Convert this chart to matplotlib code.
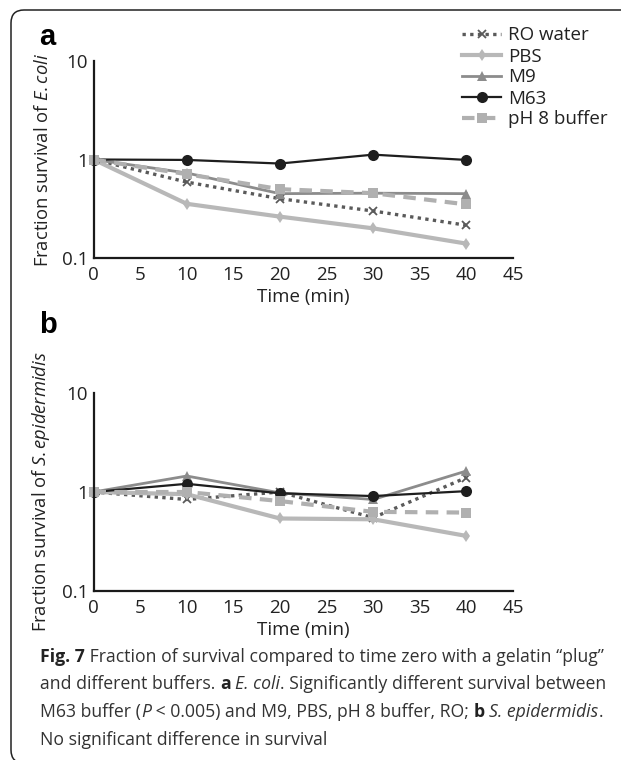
import matplotlib
matplotlib.use("Agg")
import matplotlib.pyplot as plt
from matplotlib.patches import FancyBboxPatch

plt.rcParams['font.family'] = ['Open Sans', 'DejaVu Sans']
plt.rcParams['mathtext.fontset'] = 'custom'
plt.rcParams['mathtext.rm'] = 'Open Sans'
plt.rcParams['mathtext.it'] = 'Open Sans:italic'

# ---- data ----
time = [0, 10, 20, 30, 40]
series = ["RO water", "PBS", "M9", "M63", "pH 8 buffer"]
ecoli_ro = [1.0, 0.59, 0.40, 0.30, 0.215]
ecoli_pbs = [1.0, 0.355, 0.263, 0.20, 0.14]
ecoli_m9 = [1.0, 0.73, 0.45, 0.455, 0.45]
ecoli_m63 = [1.0, 0.99, 0.91, 1.12, 0.99]
ecoli_ph8 = [1.0, 0.71, 0.50, 0.455, 0.35]

sepi_ro = [1.0, 0.84, 1.0, 0.55, 1.40]
sepi_pbs = [1.0, 0.95, 0.54, 0.53, 0.36]
sepi_m9 = [1.0, 1.45, 0.98, 0.84, 1.63]
sepi_m63 = [1.0, 1.21, 0.97, 0.91, 1.02]
sepi_ph8 = [1.0, 1.0, 0.81, 0.63, 0.62]

xticks = [0, 5, 10, 15, 20, 25, 30, 35, 40, 45]
yticks = [0.1, 1, 10]
ytick_labels = ["0.1", "1", "10"]

styles = {
    "RO water": dict(color="#5a5a5a", ls=(0, (1, 1.3)), lw=2.4, marker="x", ms=6, mew=1.3),
    "PBS": dict(color="#b8b8b8", ls="-", lw=3.0, marker="d", ms=6, mew=0),
    "M9": dict(color="#8c8c8c", ls="-", lw=2.0, marker="^", ms=7, mew=0),
    "M63": dict(color="#1e1e1e", ls="-", lw=1.6, marker="o", ms=8, mew=0),
    "pH 8 buffer": dict(color="#b0b0b0", ls=(0, (3, 2)), lw=3.0, marker="s", ms=7, mew=0),
}

W, H = 621, 760
fig = plt.figure(figsize=(W / 100, H / 100), dpi=100)

def axrect(l, t, r, b):
    return [l / W, 1 - b / H, (r - l) / W, (b - t) / H]

ax_a = fig.add_axes(axrect(93.5, 61, 513, 258))
ax_b = fig.add_axes(axrect(93.5, 393, 513, 591))

data_a = [ecoli_ro, ecoli_pbs, ecoli_m9, ecoli_m63, ecoli_ph8]
data_b = [sepi_ro, sepi_pbs, sepi_m9, sepi_m63, sepi_ph8]

handles = []
for ax, data, ylab in [(ax_a, data_a, r"Fraction survival of $\it{E.coli}$"),
                       (ax_b, data_b, r"Fraction survival of $\it{S.epidermidis}$")]:
    for name, vals in zip(series, data):
        st = styles[name]
        ln, = ax.plot(time, vals, color=st["color"], linestyle=st["ls"], lw=st["lw"],
                      marker=st["marker"], ms=st["ms"], mew=st["mew"],
                      mec=st["color"], mfc=st["color"], label=name, clip_on=False)
        if ax is ax_a:
            handles.append(ln)
    ax.set_yscale("log")
    ax.set_ylim(0.1, 10)
    ax.set_xlim(0, 45)
    ax.set_xticks(xticks)
    ax.set_xticklabels([str(v) for v in xticks])
    ax.set_yticks(yticks)
    ax.set_yticklabels(ytick_labels)
    ax.minorticks_off()
    ax.tick_params(axis="both", length=0, labelsize=13.5, colors="#222222", pad=4)
    ax.tick_params(axis="x", pad=5.5)
    for s in ["top", "right"]:
        ax.spines[s].set_visible(False)
    for s in ["left", "bottom"]:
        ax.spines[s].set_linewidth(1.6)
        ax.spines[s].set_color("#1a1a1a")
    ax.set_xlabel("Time (min)", fontsize=13.5, color="#222222", labelpad=3)
    ax.set_ylabel(ylab, fontsize=13.2, color="#222222", labelpad=7)
    ax.patch.set_alpha(0)

fig.text(47 / W, 1 - 37 / H, "a", family="Liberation Sans", weight="bold",
         fontsize=21, ha="center", va="center")
fig.text(48 / W, 1 - 325 / H, "b", family="Liberation Sans", weight="bold",
         fontsize=21, ha="center", va="center")

leg = fig.legend(handles=handles, loc="upper left", bbox_to_anchor=(462 / W, 1 - 26.5 / H),
                 frameon=False, fontsize=13.5, handlelength=2.1, handletextpad=0.35,
                 labelspacing=0.16, borderpad=0, borderaxespad=0)
for t in leg.get_texts():
    t.set_color("#222222")

# border
box = FancyBboxPatch((0.11, -0.03), 6.6, 7.5 + 0.03, boxstyle="round,pad=0,rounding_size=0.13",
                     transform=fig.dpi_scale_trans, fill=False, lw=1.1, ec="#222222")
fig.patches.append(box)

# caption with mixed styles
fig.canvas.draw()
renderer = fig.canvas.get_renderer()
cap_size = 12.7
lines = [
    [("Fig. 7", "bold"), (" Fraction of survival compared to time zero with a gelatin \u201cplug\u201d", "normal")],
    [("and different buffers. ", "normal"), ("a", "bold"), (" ", "normal"), ("E. coli", "italic"),
     (". Significantly different survival between", "normal")],
    [("M63 buffer (", "normal"), ("P", "italic"), (" < 0.005) and M9, PBS, pH 8 buffer, RO; ", "normal"),
     ("b", "bold"), (" ", "normal"), ("S. epidermidis", "italic"), (".", "normal")],
    [("No significant difference in survival", "normal")],
]
line_y = [657, 684, 712, 740]
for segs, yy in zip(lines, line_y):
    x = 40.0
    for txt, sty in segs:
        kw = dict(fontsize=cap_size, color="#333333", va="center", ha="left")
        if sty == "bold":
            kw["weight"] = "bold"
            kw["color"] = "#222222"
        elif sty == "italic":
            kw["style"] = "italic"
        t = fig.text(x / W, 1 - yy / H, txt, **kw)
        bb = t.get_window_extent(renderer=renderer)
        x += bb.width

fig.savefig("out.png", dpi=100)
